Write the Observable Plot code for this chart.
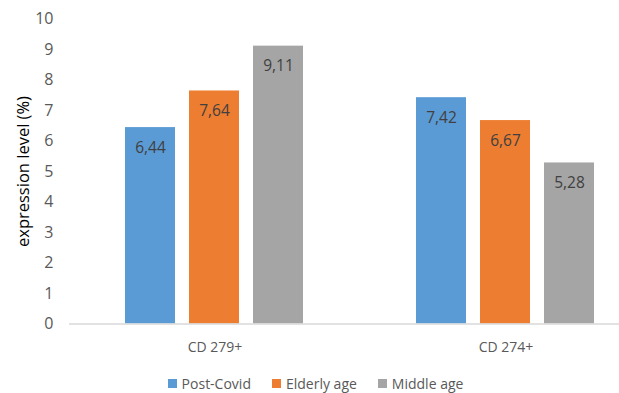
<!DOCTYPE html>
<html>
<head>
<meta charset="utf-8">
<script src="https://cdn.jsdelivr.net/npm/d3@7"></script>
<script src="https://cdn.jsdelivr.net/npm/@observablehq/plot@0.6"></script>
<style>
  html, body { margin: 0; padding: 0; background: #fff; }
  #chart { width: 619px; position: relative; }
  .legend { display: flex; justify-content: center; align-items: center; gap: 21px; font-family: "Open Sans", sans-serif; font-size: 14px; color: #595959; height: 36px; margin-left: 12px; }
  .legend span.item { display: flex; align-items: center; gap: 5px; }
  .legend span.sw { width: 9px; height: 9px; display: inline-block; }
</style>
</head>
<body>
<div id="chart"></div>
<script>
const categories = ["CD 279+", "CD 274+"];
const series = ["Post-Covid", "Elderly age", "Middle age"];
const postCovid = [6.44, 7.42];
const elderlyAge = [7.64, 6.67];
const middleAge = [9.11, 5.28];
const colors = ["#5B9BD5", "#ED7D31", "#A5A5A5"];
const yTicks = [0, 1, 2, 3, 4, 5, 6, 7, 8, 9, 10];

const seriesValues = [postCovid, elderlyAge, middleAge];
const data = categories.flatMap((c, i) =>
  series.map((s, j) => ({ category: c, series: s, value: seriesValues[j][i] }))
);

const fmt = v => v.toFixed(2).replace(".", ",");

const chart = Plot.plot({
  width: 619,
  height: 365,
  marginLeft: 68,
  marginRight: 0,
  marginTop: 18.5,
  marginBottom: 41.5,
  style: { fontFamily: "Open Sans, sans-serif", fontSize: "14px", color: "#595959", background: "#fff" },
  fx: { domain: categories, range: [68, 651], padding: 0, label: null, tickSize: 0, tickPadding: 18 },
  x: { domain: series, paddingInner: 0.218, paddingOuter: 0.875, axis: null },
  y: { domain: [0, 10] },
  color: { domain: series, range: colors },
  marks: [
    Plot.barY(data, { fx: "category", x: "series", y: "value", fill: "series" }),
    Plot.text(data, { fx: "category", x: "series", y: "value", text: d => fmt(d.value), dy: 20, fill: "#404040", fontSize: 15.5 }),
    Plot.ruleY([0], { stroke: "#D9D9D9", strokeWidth: 1.5 }),
    Plot.axisY({ ticks: yTicks, tickSize: 0, tickPadding: 16, tickFormat: d => String(d), label: "expression level (%)", labelAnchor: "center", labelOffset: 52, labelArrow: "none", fontSize: 16 })
  ]
});

chart.querySelectorAll('[aria-label="y-axis label"] text, [aria-label="y-axis label"]').forEach(el => { el.setAttribute("fill", "#000"); el.style.fill = "#000"; el.setAttribute("font-size", "16.5"); });

document.getElementById("chart").appendChild(chart);

const legend = document.createElement("div");
legend.className = "legend";
series.forEach((s, j) => {
  const item = document.createElement("span");
  item.className = "item";
  const sw = document.createElement("span");
  sw.className = "sw";
  sw.style.background = colors[j];
  const t = document.createElement("span");
  t.textContent = s;
  item.appendChild(sw);
  item.appendChild(t);
  legend.appendChild(item);
});
document.getElementById("chart").appendChild(legend);
</script>
</body>
</html>
